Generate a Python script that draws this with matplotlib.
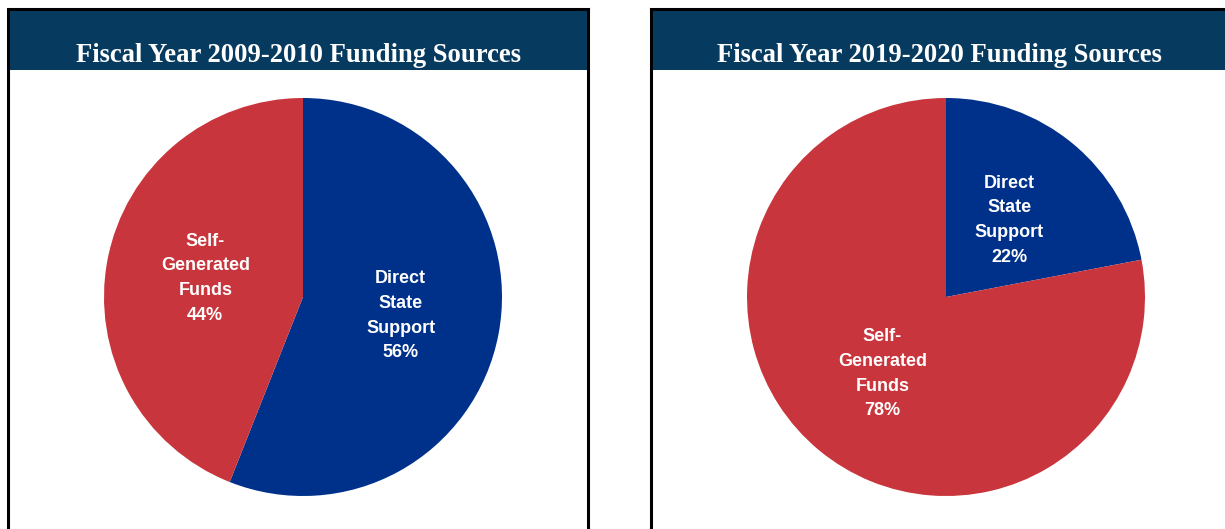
import matplotlib

matplotlib.use('Agg')

import matplotlib.pyplot as plt
from matplotlib.patches import Rectangle

# 데이터
titles = ['Fiscal Year 2009-2010 Funding Sources', 'Fiscal Year 2019-2020 Funding Sources']
categories = ['Direct\nState\nSupport', 'Self-\nGenerated\nFunds']
shares_2010 = [56, 44]
shares_2020 = [22, 78]
colors = ['#00318A', '#C8353C']
header_color = '#063A5F'

W, H = 1225, 529
fig = plt.figure(figsize=(W / 100, H / 100), dpi=100)
fig.patch.set_facecolor('white')

# 패널 프레임용 배경 축 (픽셀 좌표)
bg = fig.add_axes([0, 0, 1, 1])
bg.set_xlim(0, W)
bg.set_ylim(H, 0)
bg.axis('off')

panels = [(8, 580), (651, 576)]  # (left, width)
for (x0, w), title in zip(panels, titles):
    bg.add_patch(Rectangle((x0, 9), w, H + 20, facecolor='white', edgecolor='black', linewidth=2.2))
    bg.add_patch(Rectangle((x0 + 1.5, 10.5), w - 3, 59, facecolor=header_color, edgecolor='none'))
    bg.text(x0 + w / 2, 62, title, color='white', ha='center', va='baseline',
            fontsize=19.2, fontweight='bold', family='Liberation Serif')

# 파이 차트
centers = [(303, 297), (946, 297)]
radius = 199
for (cx, cy), values in zip(centers, [shares_2010, shares_2020]):
    ax = fig.add_axes([(cx - radius) / W, (H - cy - radius) / H, 2 * radius / W, 2 * radius / H])
    labels = [f'{c}\n{v}%' for c, v in zip(categories, values)]
    _, texts = ax.pie(values, colors=colors, startangle=90, counterclock=False,
                      labels=labels, labeldistance=0.5, radius=1,
                      wedgeprops={'linewidth': 0},
                      textprops={'color': 'white', 'fontsize': 13, 'fontweight': 'bold',
                                 'family': 'Liberation Sans', 'linespacing': 1.6})
    for t in texts:
        t.set_ha('center')
        t.set_va('center')
    ax.set_xlim(-1, 1)
    ax.set_ylim(-1, 1)
    ax.set_aspect('equal')

fig.savefig('out.png', dpi=100)
